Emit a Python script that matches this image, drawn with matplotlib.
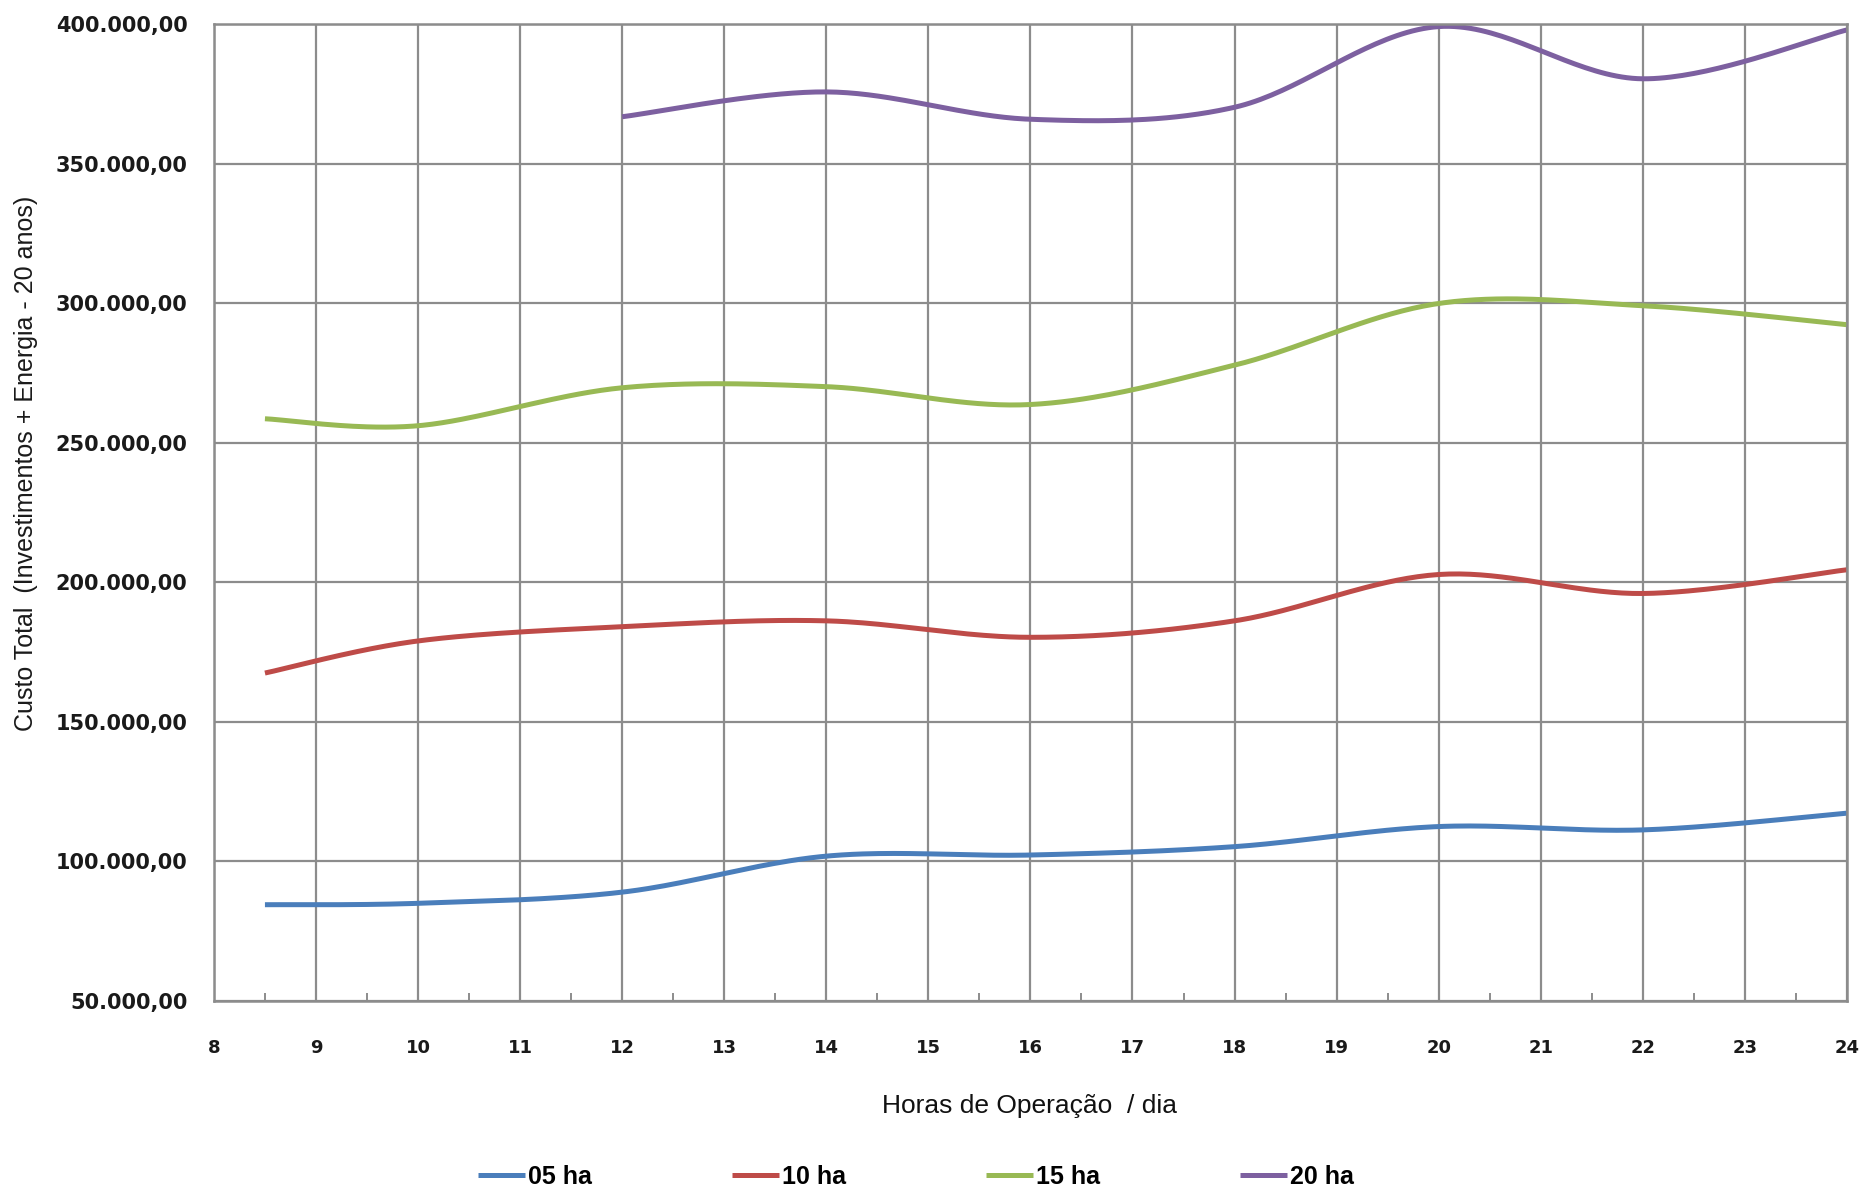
import numpy as np
import matplotlib.pyplot as plt
from matplotlib.ticker import FuncFormatter, MultipleLocator

# horas de operação por dia
horas = [8.5, 10, 12, 14, 16, 18, 20, 22, 24]
horas_20 = [12, 14, 16, 18, 20, 22, 24]

# custo total (investimentos + energia, 20 anos)
custo_05 = [84500, 85000, 89000, 101900, 102300, 105300, 112500, 111300, 117300]
custo_10 = [167500, 179000, 184100, 186200, 180300, 186200, 202800, 196000, 204500]
custo_15 = [258600, 256100, 269700, 270100, 263700, 277800, 299900, 299100, 292300]
custo_20 = [366800, 375700, 365900, 370200, 399100, 380400, 397900]

labels = ["05 ha", "10 ha", "15 ha", "20 ha"]
cores = ["#4a7ebb", "#be4b48", "#98b954", "#7d60a0"]


def suavizar(xs, ys, n=40):
    # curva de Bezier cúbica pelos pontos (estilo linha suavizada)
    p = np.column_stack([xs, ys]).astype(float)
    k = len(p)
    out = []
    t = np.linspace(0, 1, n)[:, None]
    for i in range(k - 1):
        p0 = p[max(i - 1, 0)]
        p1 = p[i]
        p2 = p[i + 1]
        p3 = p[min(i + 2, k - 1)]
        c1 = p1 + (p2 - p0) / 6
        c2 = p2 - (p3 - p1) / 6
        seg = ((1 - t) ** 3) * p1 + 3 * ((1 - t) ** 2) * t * c1 \
            + 3 * (1 - t) * t ** 2 * c2 + t ** 3 * p2
        out.append(seg if i == 0 else seg[1:])
    out = np.vstack(out)
    return out[:, 0], out[:, 1]


fig = plt.figure(figsize=(18.65, 12.04), dpi=100)
ax = fig.add_axes([0.1147, 0.1686, 0.8756, 0.8114])

series = [(horas, custo_05), (horas, custo_10), (horas, custo_15), (horas_20, custo_20)]
for (xs, ys), lab, cor in zip(series, labels, cores):
    sx, sy = suavizar(xs, ys)
    ax.plot(sx, sy, color=cor, lw=3.6, label=lab, solid_capstyle="butt")

ax.set_xlim(8, 24)
ax.set_ylim(50000, 400000)
ax.xaxis.set_major_locator(MultipleLocator(1))
ax.xaxis.set_minor_locator(MultipleLocator(0.5))
ax.yaxis.set_major_locator(MultipleLocator(50000))

grid_color = "#8c8c8c"
ax.grid(True, which="major", color=grid_color, lw=1.6)
ax.set_axisbelow(True)
for s in ax.spines.values():
    s.set_color(grid_color)
    s.set_linewidth(1.8)

ax.yaxis.set_major_formatter(FuncFormatter(
    lambda v, p: f"{v:,.2f}".replace(",", "X").replace(".", ",").replace("X", ".")))
ax.tick_params(axis="x", which="major", length=0, pad=27, labelsize=13)
ax.tick_params(axis="x", which="minor", direction="in", length=6, width=1.4, color=grid_color)
ax.tick_params(axis="y", which="major", length=0, pad=19, labelsize=15)
for t in ax.get_xticklabels() + ax.get_yticklabels():
    t.set_fontweight("bold")
    t.set_color("#1a1a1a")

ax.set_xlabel("Horas de Operação  / dia", fontsize=19, family="Liberation Sans",
              color="#111111")
ax.xaxis.set_label_coords(0.4997, -0.1075)
ax.xaxis.label.set_va("center")

ax.set_ylabel("Custo Total  (Investimentos + Energia - 20 anos)", fontsize=18,
              family="Liberation Sans", color="#1a1a1a")
ax.yaxis.set_label_coords(-0.115, 0.55)
ax.yaxis.label.set_va("center")

fig.legend(loc="center", bbox_to_anchor=(0.491, 0.0224), ncol=4, frameon=False,
           handlelength=1.9, handletextpad=0.1, columnspacing=5.6,
           prop={"family": "Liberation Sans", "weight": "bold", "size": 18})

fig.savefig("out.png", dpi=100)
